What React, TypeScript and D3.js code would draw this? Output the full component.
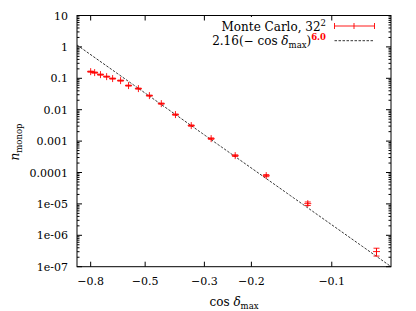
import React, { useEffect, useRef } from 'react';
import * as d3 from 'd3';

// monopole density vs cos(delta_max), log-log with reversed x

const cosDelta = [-0.800, -0.773, -0.735, -0.697, -0.662, -0.618, -0.577, -0.530, -0.482,
  -0.435, -0.385, -0.336, -0.283, -0.230, -0.176, -0.123, -0.068];
const nMonop = [0.163, 0.152, 0.131, 0.113, 0.098, 0.0845, 0.0586, 0.047, 0.0281,
  0.0156, 0.00698, 0.00312, 0.0012, 0.000345, 7.96e-5, 1.02e-5, 3.03e-7];
const nErr = [0.006, 0.006, 0.005, 0.004, 0.0035, 0.003, 0.002, 0.0017, 0.001,
  0.0006, 0.0003, 0.00014, 0.00006, 0.00002, 0.6e-5, 1.3e-6, 0.85e-7];

const fitA = 2.16;
const fitP = 6.0;

const xTicks = [-0.8, -0.5, -0.3, -0.2, -0.1];
const xTickLabels = ['\u22120.8', '\u22120.5', '\u22120.3', '\u22120.2', '\u22120.1'];
const yTicks = [10, 1, 0.1, 0.01, 0.001, 0.0001, 1e-5, 1e-6, 1e-7];
const yTickLabels = ['10', '1', '0.1', '0.01', '0.001', '0.0001', '1e-05', '1e-06', '1e-07'];

const FONT = "'DejaVu Serif', serif";

export default function App() {
  const ref = useRef<SVGSVGElement>(null);

  useEffect(() => {
    const svg = d3.select(ref.current);
    svg.selectAll('*').remove();

    const left = 77, right = 391, top = 15.5, bottom = 266.7;

    // x is plotted as -cos on a reversed log axis
    const x = d3.scaleLog().domain([0.9, 0.06]).range([left, right]);
    const y = d3.scaleLog().domain([1e-7, 10]).range([bottom, top]);
    const xp = (c: number) => x(-c);

    const g = svg.append('g').style('font-family', FONT);

    // fit curve
    const fitX = d3.range(0, 101).map(i => -0.9 * Math.pow(0.06 / 0.9, i / 100));
    const line = d3.line<number>().x(c => xp(c)).y(c => y(fitA * Math.pow(-c, fitP)));
    g.append('path')
      .datum(fitX)
      .attr('d', line)
      .attr('fill', 'none')
      .attr('stroke', '#000')
      .attr('stroke-width', 0.8)
      .attr('stroke-dasharray', '2.5,1.5');

    // y ticks, major + minor, on both sides
    yTicks.forEach((t, i) => {
      const yy = y(t);
      g.append('line').attr('x1', left).attr('x2', left + 5).attr('y1', yy).attr('y2', yy).attr('stroke', '#000');
      g.append('line').attr('x1', right).attr('x2', right - 5).attr('y1', yy).attr('y2', yy).attr('stroke', '#000');
      g.append('text')
        .attr('x', 68).attr('y', yy + 4)
        .attr('text-anchor', 'end')
        .attr('font-size', 11)
        .text(yTickLabels[i]);
      if (t < 10) {
        for (let m = 2; m <= 9; m++) {
          const ym = y(t * m);
          g.append('line').attr('x1', left).attr('x2', left + 2.5).attr('y1', ym).attr('y2', ym).attr('stroke', '#000');
          g.append('line').attr('x1', right).attr('x2', right - 2.5).attr('y1', ym).attr('y2', ym).attr('stroke', '#000');
        }
      }
    });

    // x ticks
    xTicks.forEach((t, i) => {
      const xx = xp(t);
      g.append('line').attr('x1', xx).attr('x2', xx).attr('y1', bottom).attr('y2', bottom - 5).attr('stroke', '#000');
      g.append('line').attr('x1', xx).attr('x2', xx).attr('y1', top).attr('y2', top + 5).attr('stroke', '#000');
      g.append('text')
        .attr('x', xx).attr('y', 285)
        .attr('text-anchor', 'middle')
        .attr('font-size', 11)
        .text(xTickLabels[i]);
    });

    // data with error bars
    const pts = g.selectAll('.pt').data(cosDelta).join('g').attr('class', 'pt')
      .attr('stroke', '#ff0000').attr('stroke-width', 0.9);
    pts.each(function (c, i) {
      const p = d3.select(this);
      const cx = xp(c), cy = y(nMonop[i]);
      const y1 = y(nMonop[i] + nErr[i]), y2 = y(Math.max(nMonop[i] - nErr[i], 1e-9));
      p.append('line').attr('x1', cx).attr('x2', cx).attr('y1', y1).attr('y2', y2);
      p.append('line').attr('x1', cx - 3).attr('x2', cx + 3).attr('y1', y1).attr('y2', y1);
      p.append('line').attr('x1', cx - 3).attr('x2', cx + 3).attr('y1', y2).attr('y2', y2);
      p.append('line').attr('x1', cx - 3.5).attr('x2', cx + 3.5).attr('y1', cy).attr('y2', cy);
      p.append('line').attr('x1', cx).attr('x2', cx).attr('y1', cy - 3.5).attr('y2', cy + 3.5);
    });

    // frame
    g.append('rect')
      .attr('x', left).attr('y', top)
      .attr('width', right - left).attr('height', bottom - top)
      .attr('fill', 'none').attr('stroke', '#000').attr('stroke-width', 1);

    // legend (opaque behind text)
    g.append('rect').attr('x', 212).attr('y', 17).attr('width', 118).attr('height', 31).attr('fill', '#fff');

    const t1 = g.append('text')
      .attr('x', 326).attr('y', 30.5)
      .attr('text-anchor', 'end')
      .attr('font-size', 12);
    t1.append('tspan').text('Monte Carlo, 32');
    t1.append('tspan').attr('dy', -5).attr('font-size', 8.5).text('2');

    const t2 = g.append('text')
      .attr('x', 326).attr('y', 45)
      .attr('text-anchor', 'end')
      .attr('font-size', 12);
    t2.append('tspan').text('2.16(\u2212 cos ');
    t2.append('tspan').attr('font-style', 'italic').text('\u03b4');
    t2.append('tspan').attr('dy', 3).attr('font-size', 8.5).text('max');
    t2.append('tspan').attr('dy', -3).text(')');
    t2.append('tspan').attr('dy', -5).attr('font-size', 8.5).attr('font-weight', 'bold').attr('fill', '#ff0000').text(fitP.toFixed(1));

    const lx1 = 334.5, lx2 = 374.5, lm = 354;
    [[lx1, lx2, 26, 26], [lx1, lx1, 23, 29], [lx2, lx2, 23, 29], [lm, lm, 23, 29]].forEach(d => {
      g.append('line').attr('x1', d[0]).attr('x2', d[1]).attr('y1', d[2]).attr('y2', d[3]).attr('stroke', '#ff0000').attr('stroke-width', 0.9);
    });
    g.append('line').attr('x1', lx1).attr('x2', lx2).attr('y1', 40.7).attr('y2', 40.7)
      .attr('stroke', '#000').attr('stroke-width', 0.8).attr('stroke-dasharray', '2.5,1.5');

    // axis titles
    const xt = g.append('text')
      .attr('x', 234).attr('y', 305.5)
      .attr('text-anchor', 'middle')
      .attr('font-size', 12);
    xt.append('tspan').text('cos ');
    xt.append('tspan').attr('font-style', 'italic').text('\u03b4');
    xt.append('tspan').attr('dy', 3).attr('font-size', 8.5).text('max');

    const yt = g.append('text')
      .attr('transform', 'translate(18.5,142) rotate(-90)')
      .attr('text-anchor', 'middle')
      .attr('font-size', 12);
    yt.append('tspan').attr('font-style', 'italic').text('n');
    yt.append('tspan').attr('dy', 3).attr('font-size', 8.5).text('monop');
  }, []);

  return (
    <div style={{ position: 'absolute', left: 0, top: 0 }}>
      <svg ref={ref} width={416} height={311} style={{ display: 'block', background: '#fff' }} />
    </div>
  );
}
